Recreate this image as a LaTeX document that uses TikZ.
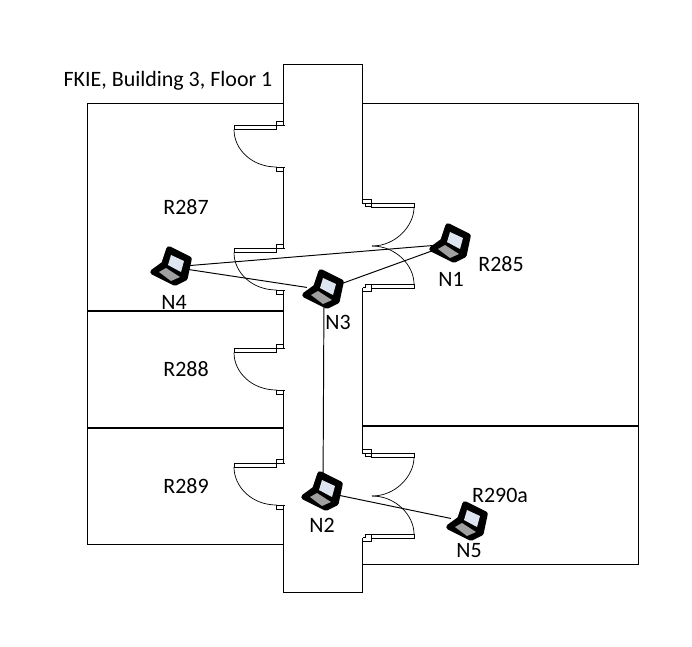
\documentclass[tikz,border=0pt]{standalone}
\usepackage{fontspec}
\setmainfont{Carlito}
\definecolor{scr}{RGB}{222,228,240}
\definecolor{keyb}{RGB}{160,160,160}
\newcommand{\laptop}[1]{
	\begin{scope}[shift={(#1)}]
	\fill[black, draw=black, line width=3.1pt, line join=round] (-3,-18)--(17,-8)--(13,11)--(3,16)--(-19,5)--(-8,-3)--cycle;
	\fill[scr] (-1,-12)--(12,-6)--(9,5)--(-4,-2)--cycle;
	\fill[keyb] (-13,5)--(-6,1)--(8,10)--(-1,14)--cycle;
	\end{scope}
}
\begin{document}
\begin{tikzpicture}[x=0.02cm, y=-0.02cm]
\tikzstyle{lap}=[circle, inner sep=0pt, minimum width=0.68cm]
\tikzstyle{wall}=[line width=0.55pt]
\tikzstyle{door}=[line width=0.4pt]
\tikzstyle{thick wall}=[line width=1.15pt]
\tikzstyle{txt}=[font=\fontsize{12.5}{15}\selectfont, inner sep=0pt]
\useasboundingbox (0,0) rectangle (692,646);
	% rooms and corridor
\draw[wall] (283.5,103)--(87,103)--(87,544)--(283.5,544);
\draw[wall] (362.5,103)--(638,103)--(638,564)--(362.5,564);
\draw[wall] (283.5,125.5)--(283.5,64)--(362.5,64)--(362.5,203.5);
\draw[wall] (283.5,167)--(283.5,248.5);
\draw[wall] (283.5,290)--(283.5,348.5);
\draw[wall] (283.5,390)--(283.5,463);
\draw[wall] (283.5,505)--(283.5,592)--(362.5,592)--(362.5,537.5);
\draw[wall] (362.5,288)--(362.5,453.5);
\draw[thick wall] (87,311)--(283.5,311);
\draw[thick wall] (87,428)--(283.5,428);
\draw[thick wall] (362.5,426)--(638,426);
	% doors on the left
\foreach \y/\h in {125.5/41.5, 248.5/41.5, 348.5/41.5, 463/42}{
	\begin{scope}[shift={(0,\y)}]
	\draw[wall] (234,0) rectangle (276.5,4);
	\draw[wall] (276.5,0)--(276.5,-4)--(283.5,-4)--(283.5,0);
	\draw[wall] (276.5,0)--(285,0);
	\draw[wall] (276.5,\h)--(285,\h);
	\draw[wall] (276.5,\h)--(276.5,\h+4)--(283.5,\h+4)--(283.5,\h);
	\draw[door] (234,4) .. controls (234,24) and (252,\h) .. (276.5,\h);
	\end{scope}
}
	% doors on the right
\foreach \y/\h in {203.5/80.5, 453.5/80.5}{
	\begin{scope}[shift={(0,\y)}]
	\draw[wall] (371,0) rectangle (414,4);
	\draw[wall] (371,0)--(371,-4)--(362.5,-4);
	\draw[wall] (362.5,0)--(371,0);
	\draw[wall] (365,0)--(365,3)--(371,3);
	\draw[wall] (371,\h) rectangle (414,\h+4);
	\draw[wall] (371,\h)--(365,\h)--(365,\h+3.5)--(362.5,\h+3.5);
	\draw[wall] (371,\h+4)--(371,\h+7)--(362.5,\h+7);
	\draw[door] (414,4) .. controls (414,22) and (396,42.5) .. (372,42.5);
	\draw[door] (414,\h) .. controls (414,62) and (396,42.5) .. (372,42.5);
	\end{scope}
}
	% laptops
	\node[lap] (L1) at (451,244){};
	\node[lap] (L2) at (323,492){};
	\node[lap] (L3) at (324,290){};
	\node[lap] (L4) at (172,267){};
	\node[lap] (L5) at (468,522){};
\draw[wall] (L4)--(L1);
\draw[wall] (L4)--(L3);
\draw[wall] (L3)--(L1);
\draw[wall] (L3)--(L2);
\draw[wall] (L2)--(L5);
\laptop{L1}
\laptop{L2}
\laptop{L3}
\laptop{L4}
\laptop{L5}
	% labels
	\node[txt] (title) at (168,81){FKIE, Building 3, Floor 1};
	\node[txt] (R287) at (186,207){R287};
	\node[txt] (R288) at (186,369){R288};
	\node[txt] (R289) at (186,486){R289};
	\node[txt] (R285) at (501,264){R285};
	\node[txt] (R290a) at (500,495){R290a};
	\node[txt] (N1) at (451,279){N1};
	\node[txt] (N2) at (322,525){N2};
	\node[txt] (N3) at (338,322){N3};
	\node[txt] (N4) at (174,302){N4};
	\node[txt] (N5) at (469,551){N5};
\end{tikzpicture}
\end{document}
